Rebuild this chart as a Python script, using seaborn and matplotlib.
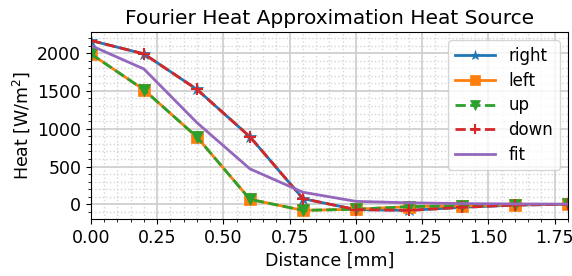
import numpy as np
import pandas as pd
import matplotlib
matplotlib.use("Agg")
import matplotlib.pyplot as plt
import seaborn as sns
from matplotlib.ticker import AutoMinorLocator, MultipleLocator

# Data
distance = [0.0, 0.2, 0.4, 0.6, 0.8, 1.0, 1.2, 1.4, 1.6, 1.8]
right = [2167, 1990, 1520, 893, 75, -70, -80, -40, -10, 0]
left = [1990, 1515, 890, 66, -80, -65, -30, -20, -5, 0]
up = [1990, 1515, 890, 66, -80, -65, -30, -20, -5, 0]
down = [2167, 1990, 1520, 893, 75, -70, -80, -40, -10, 0]
fit = [2100, 1790, 1080, 469, 160, 39, 20, 10, 5, 3]

series = [
    ("right", right, "*", "-", "C0"),
    ("left", left, "s", "-", "C1"),
    ("up", up, "v", "--", "C2"),
    ("down", down, "+", "--", "C3"),
    ("fit", fit, None, "-", "C4"),
]

fig, ax = plt.subplots(figsize=(5.72, 2.76), dpi=100)

for name, vals, mk, ls, col in series:
    df = pd.DataFrame({"Distance": distance, "Heat": vals})
    sns.lineplot(data=df, x="Distance", y="Heat", ax=ax, label=name,
                 marker=mk, linestyle=ls, color=col, linewidth=2,
                 markersize=9, markeredgewidth=1.5 if mk == "+" else 0.5,
                 markeredgecolor=col, errorbar=None)

ax.set_xlim(0, 1.8)
ax.xaxis.set_major_locator(MultipleLocator(0.25))
ax.yaxis.set_major_locator(MultipleLocator(500))
ax.xaxis.set_minor_locator(AutoMinorLocator(5))
ax.yaxis.set_minor_locator(AutoMinorLocator(5))
ax.grid(which="major", color="#cccccc", linewidth=1.2)
ax.grid(which="minor", color="#d5d5d5", linestyle=":", linewidth=1)
ax.set_axisbelow(True)

ax.set_title("Fourier Heat Approximation Heat Source", fontsize=14.5)
ax.set_xlabel("Distance [mm]", fontsize=12.5)
ax.set_ylabel("Heat [W/m$^2$]", fontsize=12.5)
ax.tick_params(labelsize=12.5)
ax.legend(loc="upper right", fontsize=12, handlelength=2.4,
          markerscale=0.75, labelspacing=0.4)

fig.subplots_adjust(left=0.159, right=0.993, top=0.884, bottom=0.207)
fig.savefig("out.png", dpi=100)
